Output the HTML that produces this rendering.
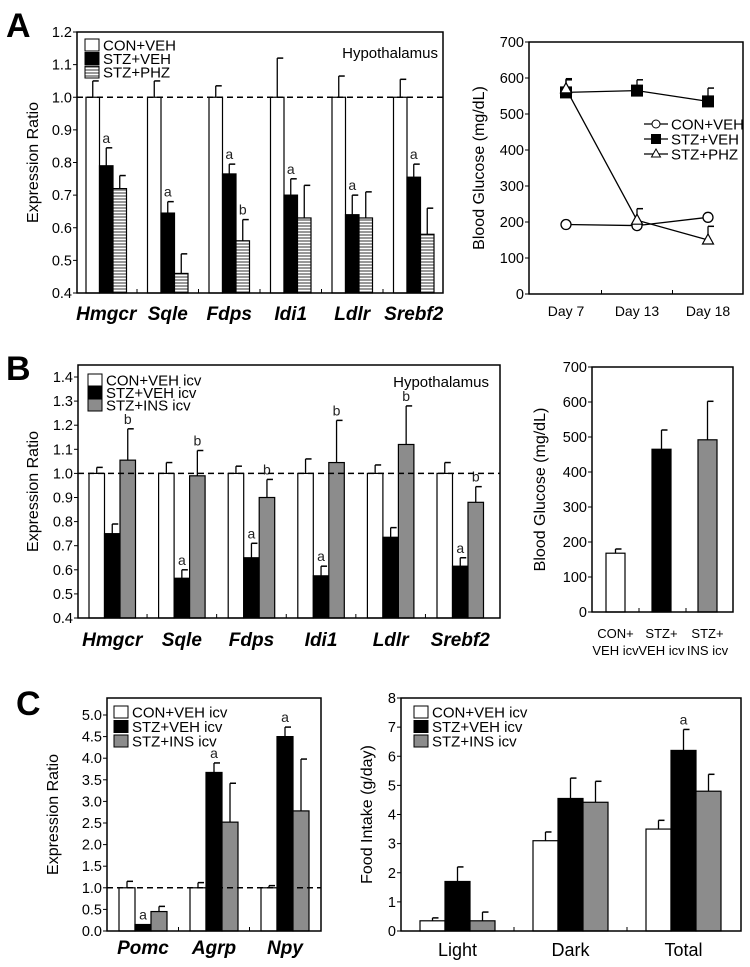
<!DOCTYPE html>
<html><head><meta charset="utf-8">
<style>
html,body{margin:0;padding:0;background:#fff;}
svg{display:block;font-family:"Liberation Sans",Arial,sans-serif;}
</style></head>
<body>
<svg id="fig" width="750" height="967" viewBox="0 0 750 967" xmlns="http://www.w3.org/2000/svg">
<defs>
<pattern id="hatch" width="4" height="3" patternUnits="userSpaceOnUse">
<rect width="4" height="3" fill="#fff"/><line x1="0" y1="1" x2="4" y2="1" stroke="#333" stroke-width="1"/>
</pattern>
</defs>
<text x="6" y="37" font-size="34" font-weight="bold">A</text>
<text x="6" y="380" font-size="34" font-weight="bold">B</text>
<text x="16" y="715" font-size="34" font-weight="bold">C</text>
</svg>
<script>
// ---- Panel A left data ----
const aGenes = ["Hmgcr","Sqle","Fdps","Idi1","Ldlr","Srebf2"];
const aCon = [1,1,1,1,1,1];
const aConErr = [0.05,0.05,0.035,0.12,0.065,0.055];
const aStz = [0.79,0.645,0.765,0.70,0.64,0.755];
const aStzErr = [0.055,0.035,0.03,0.05,0.06,0.04];
const aPhz = [0.72,0.46,0.56,0.63,0.63,0.58];
const aPhzErr = [0.04,0.06,0.065,0.10,0.08,0.08];
const aLetters = [["","a",""],["","a",""],["","a","b"],["","a",""],["","a",""],["","a",""]];
const aTicks = [0.4,0.5,0.6,0.7,0.8,0.9,1.0,1.1,1.2];
// ---- Panel A right data ----
const gDays = ["Day 7","Day 13","Day 18"];
const gCon = [193,190,213];
const gConErr = [0,0,0];
const gStz = [560,565,535];
const gStzErr = [35,30,37];
const gPhz = [570,205,150];
const gPhzErr = [28,32,38];
const gTicks = [0,100,200,300,400,500,600,700];
// ---- Panel B left data ----
const bGenes = ["Hmgcr","Sqle","Fdps","Idi1","Ldlr","Srebf2"];
const bCon = [1,1,1,1,1,1];
const bConErr = [0.025,0.045,0.03,0.06,0.035,0.045];
const bStz = [0.75,0.565,0.65,0.575,0.735,0.615];
const bStzErr = [0.04,0.035,0.06,0.04,0.04,0.035];
const bIns = [1.055,0.99,0.90,1.045,1.12,0.88];
const bInsErr = [0.13,0.105,0.075,0.175,0.16,0.065];
const bLetters = [["","","b"],["","a","b"],["","a","b"],["","a","b"],["","","b"],["","a","b"]];
const bTicks = [0.4,0.5,0.6,0.7,0.8,0.9,1.0,1.1,1.2,1.3,1.4];
// ---- Panel B right data ----
const bgGroups = [["CON+","VEH icv"],["STZ+","VEH icv"],["STZ+","INS icv"]];
const bgVals = [168,465,492];
const bgErr = [12,55,110];
const bgTicks = [0,100,200,300,400,500,600,700];
// ---- Panel C left data ----
const cGenes = ["Pomc","Agrp","Npy"];
const cCon = [1,1,1];
const cConErr = [0.15,0.12,0.05];
const cStz = [0.15,3.67,4.5];
const cStzErr = [0,0.22,0.22];
const cIns = [0.45,2.52,2.78];
const cInsErr = [0.12,0.9,1.2];
const cLetters = [["","a",""],["","a",""],["","a",""]];
const cTicks = [0,0.5,1,1.5,2,2.5,3,3.5,4,4.5,5];
// ---- Panel C right data ----
const fPeriods = ["Light","Dark","Total"];
const fCon = [0.35,3.1,3.5];
const fConErr = [0.1,0.3,0.3];
const fStz = [1.7,4.55,6.2];
const fStzErr = [0.5,0.7,0.72];
const fIns = [0.35,4.42,4.8];
const fInsErr = [0.3,0.72,0.58];
const fLetters = [["","",""],["","",""],["","a",""]];
const fTicks = [0,1,2,3,4,5,6,7,8];

const NS="http://www.w3.org/2000/svg";
const svg=document.getElementById('fig');
function el(tag,attrs,parent,text){
  const e=document.createElementNS(NS,tag);
  for(const k in attrs)e.setAttribute(k,attrs[k]);
  if(text!==undefined)e.textContent=text;
  (parent||svg).appendChild(e);return e;
}
function fmt(v,d){return v.toFixed(d);}

function frame(g,c){
  const r=el('rect',{x:c.x0,y:c.top,width:c.x1-c.x0,height:c.yb-c.top,fill:'none',stroke:'#000','stroke-width':1.5},g);
  
  
}
function yAxis(g,c,ticks,yf,dec,title,titleX){
  ticks.forEach(t=>{
    const y=yf(t);
    const l=el('line',{x1:c.x0-4,y1:y,x2:c.x0,y2:y,stroke:'#000','stroke-width':1},g);
    
    
    const tx=el('text',{x:c.x0-5,y:y+5,'font-size':14.5,'text-anchor':'end'},g,fmt(t,dec));
    
    
  });
  const cy=(c.top+c.yb)/2;
  const tt=el('text',{x:titleX,y:cy,'font-size':16,'text-anchor':'middle',transform:`rotate(-90 ${titleX} ${cy})`},g,title);
  
  
}
function errBar(g,x,yTop,yErr){
  if(Math.abs(yTop-yErr)<0.5)return;
  const l=el('line',{x1:x,y1:yTop,x2:x,y2:yErr,stroke:'#000','stroke-width':1.3},g);
  
  
  const c=el('line',{x1:x,y1:yErr,x2:x+6,y2:yErr,stroke:'#000','stroke-width':1.5},g);
  
  
}
function legend(g,x,y,labels,fills,dy,fs){
  labels.forEach((lab,i)=>{
    const r=el('rect',{x:x,y:y+i*dy-6,width:14,height:12,fill:fills[i],stroke:'#000','stroke-width':1},g);
    
    
    const t=el('text',{x:x+18,y:y+i*dy+5.5,'font-size':fs},g,lab);
    
    
  });
}
function groupedBars(c){
  const g=el('g',{});
  
  
  const yf=v=>c.yb-(v-c.ymin)/(c.ymax-c.ymin)*(c.yb-c.ytop);
  const base=yf(c.ymin);
  c.cats.forEach((cat,i)=>{
    c.series.forEach((s,j)=>{
      const x=c.first+i*c.sp+j*c.bw;
      const yv=yf(s[i]);
      const r=el('rect',{x:x,y:yv,width:c.bw,height:Math.max(0,base-yv),fill:c.fills[j],stroke:'#000','stroke-width':1.2},g);
      
      
      const ye=yf(s[i]+c.errs[j][i]);
      errBar(g,x+c.bw/2,yv,ye);
      const L=c.letters[i][j];
      if(L){
        const t=el('text',{x:x+c.bw/2,y:ye-5,'font-size':14,'text-anchor':'middle',fill:'#222'},g,L);
        
        
      }
    });
    if(i>0){
      const tx=c.first+i*c.sp-(c.sp-c.bw*c.series.length)/2;
      const tk=el('line',{x1:tx,y1:c.yb,x2:tx,y2:c.yb-4,stroke:'#000','stroke-width':1},g);
      
      
    }
    const lx=c.first+i*c.sp+c.bw*c.series.length/2;
    const t=el('text',{x:lx,y:c.labelY,'font-size':c.labelFs,'font-weight':c.labelBold?'bold':'normal','font-style':c.labelItalic?'italic':'normal','text-anchor':'middle'},g,cat);
    
    
  });
  if(c.dash!==undefined){
    const y=yf(c.dash);
    const d=el('line',{x1:c.x0,y1:y,x2:c.x1,y2:y,stroke:'#000','stroke-width':1.5,'stroke-dasharray':'6,4'},g);
    
    
  }
  frame(g,c);
  yAxis(g,c,c.ticks,yf,c.dec,c.title,c.titleX);
  return g;
}

// Panel A left
const gA=groupedBars({name:'chart-a-expression',x0:77,x1:443,top:32,yb:293,ytop:32,ymin:0.4,ymax:1.2,
  cats:aGenes,series:[aCon,aStz,aPhz],errs:[aConErr,aStzErr,aPhzErr],letters:aLetters,keys:['con','stz','phz'],
  fills:['#fff','#000','url(#hatch)'],first:86,bw:13.5,sp:61.5,dash:1.0,ticks:aTicks,dec:1,
  title:'Expression Ratio',titleX:38,labelY:320,labelFs:19,labelBold:true,labelItalic:true});
legend(gA,85,45,['CON+VEH','STZ+VEH','STZ+PHZ'],['#fff','#000','url(#hatch)'],13.5,15);
{const t=el('text',{x:438,y:58,'font-size':15,'text-anchor':'end'},gA,'Hypothalamus');

}

// Panel B left
const gB=groupedBars({name:'chart-b-expression',x0:78,x1:500,top:365,yb:618,ytop:377,ymin:0.4,ymax:1.4,
  cats:bGenes,series:[bCon,bStz,bIns],errs:[bConErr,bStzErr,bInsErr],letters:bLetters,keys:['con','stz','ins'],
  fills:['#fff','#000','#8c8c8c'],first:89,bw:15.5,sp:69.6,dash:1.0,ticks:bTicks,dec:1,
  title:'Expression Ratio',titleX:38,labelY:646,labelFs:19,labelBold:true,labelItalic:true});
legend(gB,88,380,['CON+VEH icv','STZ+VEH icv','STZ+INS icv'],['#fff','#000','#8c8c8c'],12.5,15);
{const t=el('text',{x:489,y:387,'font-size':15,'text-anchor':'end'},gB,'Hypothalamus');

}

// Panel C left
const gC=groupedBars({name:'chart-c-expression',x0:107,x1:321,top:698,yb:931,ytop:715,ymin:0,ymax:5,
  cats:cGenes,series:[cCon,cStz,cIns],errs:[cConErr,cStzErr,cInsErr],letters:cLetters,keys:['con','stz','ins'],
  fills:['#fff','#000','#8c8c8c'],first:119,bw:16,sp:71,dash:1.0,ticks:cTicks,dec:1,
  title:'Expression Ratio',titleX:58,labelY:954,labelFs:19,labelBold:true,labelItalic:true});
legend(gC,114,712,['CON+VEH icv','STZ+VEH icv','STZ+INS icv'],['#fff','#000','#8c8c8c'],14.5,15);

// Panel C right
const gF=groupedBars({name:'chart-c-food-intake',x0:401,x1:741,top:698,yb:931,ytop:698,ymin:0,ymax:8,
  cats:fPeriods,series:[fCon,fStz,fIns],errs:[fConErr,fStzErr,fInsErr],letters:fLetters,keys:['con','stz','ins'],
  fills:['#fff','#000','#8c8c8c'],first:420,bw:25,sp:113,ticks:fTicks,dec:0,
  title:'Food Intake (g/day)',titleX:372,labelY:956,labelFs:18,labelBold:false,labelItalic:false});
legend(gF,414,712,['CON+VEH icv','STZ+VEH icv','STZ+INS icv'],['#fff','#000','#8c8c8c'],14.5,15);

// Panel B right: glucose bars
(function(){
  const c={x0:592,x1:733,top:367,yb:612,ytop:367};
  const g=el('g',{});
  
  
  const yf=v=>c.yb-v/700*(c.yb-c.ytop);
  const fills=['#fff','#000','#8c8c8c'];
  const xs=[606,652,698];
  bgVals.forEach((v,i)=>{
    const yv=yf(v);
    const r=el('rect',{x:xs[i],y:yv,width:19,height:c.yb-yv,fill:fills[i],stroke:'#000','stroke-width':1.2},g);
    
    
    errBar(g,xs[i]+9.5,yv,yf(v+bgErr[i]));
    const t1=el('text',{x:xs[i]+9.5,y:638,'font-size':13,'text-anchor':'middle'},g,bgGroups[i][0]);
    
    
    const t2=el('text',{x:xs[i]+9.5,y:655,'font-size':13,'text-anchor':'middle'},g,bgGroups[i][1]);
    
    
  });
  [639,686].forEach(x=>{const t=el('line',{x1:x,y1:c.yb,x2:x,y2:c.yb-4,stroke:'#000'},g);
    
    });
  frame(g,c);
  yAxis(g,c,bgTicks,yf,0,'Blood Glucose (mg/dL)',545);
})();

// Panel A right: glucose line chart
(function(){
  const c={x0:529,x1:743,top:42,yb:294,ytop:42};
  const g=el('g',{});
  
  
  const yf=v=>c.yb-v/700*(c.yb-c.ytop);
  const xf=i=>566+i*71;
  frame(g,c);
  yAxis(g,c,gTicks,yf,0,'Blood Glucose (mg/dL)',484);
  [0.5,1.5].forEach(k=>{const t=el('line',{x1:xf(k),y1:c.yb,x2:xf(k),y2:c.yb-4,stroke:'#000'},g);
    
    });
  gDays.forEach((d,i)=>{const t=el('text',{x:xf(i),y:316,'font-size':14,'text-anchor':'middle'},g,d);
    
    });
  const series=[[gCon,gConErr,'circle','con'],[gStz,gStzErr,'square','stz'],[gPhz,gPhzErr,'triangle','phz']];
  series.forEach(([vals,errs,m,k])=>{
    const pts=vals.map((v,i)=>xf(i)+','+yf(v)).join(' ');
    const pl=el('polyline',{points:pts,fill:'none',stroke:'#000','stroke-width':1.3},g);
    
    
    vals.forEach((v,i)=>{
      const x=xf(i),y=yf(v);
      if(errs[i]>0){errBar(g,x,y,yf(v+errs[i]));}
    });
  });
  series.forEach(([vals,errs,m,k])=>{
    vals.forEach((v,i)=>{
      const x=xf(i),y=yf(v);let p;
      if(m==='circle')p=el('circle',{cx:x,cy:y,r:5,fill:'#fff',stroke:'#000','stroke-width':1.3},g);
      else if(m==='square')p=el('rect',{x:x-6,y:y-6,width:12,height:12,fill:'#000'},g);
      else p=el('polygon',{points:`${x},${y-6} ${x-5.5},${y+4} ${x+5.5},${y+4}`,fill:'#fff',stroke:'#000','stroke-width':1.2},g);
      
      
    });
  });
  const lab=['CON+VEH','STZ+VEH','STZ+PHZ'];
  const ms=['circle','square','triangle'];
  lab.forEach((L,i)=>{
    const y=124+i*15;
    const ln=el('line',{x1:644,y1:y,x2:668,y2:y,stroke:'#000','stroke-width':1.2},g);
    
    
    let p;
    if(ms[i]==='circle')p=el('circle',{cx:656,cy:y,r:4,fill:'#fff',stroke:'#000'},g);
    else if(ms[i]==='square')p=el('rect',{x:651,y:y-5,width:10,height:10,fill:'#000'},g);
    else p=el('polygon',{points:`656,${y-5} 651.5,${y+3} 660.5,${y+3}`,fill:'#fff',stroke:'#000'},g);
    
    
    const t=el('text',{x:671,y:y+5.5,'font-size':15},g,L);
    
    
  });
})();
</script>
</body></html>
